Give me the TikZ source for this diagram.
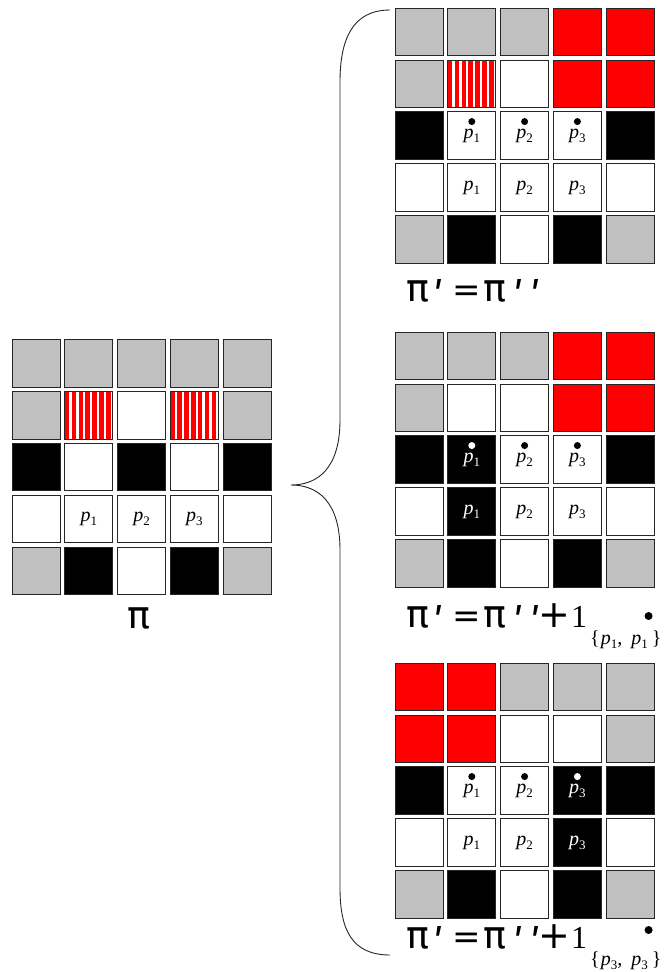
\documentclass[tikz,border=0pt]{standalone}
\usepackage{fontspec}
\setmainfont{Liberation Serif}
\newfontfamily\symfont{DejaVu Sans}
\usepackage{tikz}
\usetikzlibrary{positioning,calc}
\definecolor{CellGray}{HTML}{C0C0C0}
\definecolor{CellRed}{HTML}{FF0000}

\newcommand\pv[1]{\textit{p}\raisebox{-4pt}{\fontsize{13}{13}\selectfont #1}}
\newcommand\lpi{{\symfont\fontsize{38}{38}\selectfont π}}
\newcommand\prm{\raisebox{-10pt}{\symfont\fontsize{40}{40}\selectfont ʹ}}
\newcommand\pieq{\makebox[27pt][l]{\lpi}\makebox[19pt][l]{\prm}%
  \makebox[31pt][l]{\symfont\fontsize{34}{34}\selectfont =}\makebox[30pt][l]{\lpi}%
  \makebox[17pt][l]{\prm}\makebox[8pt][l]{\prm}}
\newcommand\plusone{\makebox[33pt][l]{\symfont\fontsize{38}{38}\selectfont +}1}
\newcommand\subpair[1]{\hspace{3pt}\raisebox{-17pt}{\fontsize{20}{20}\selectfont
  \{\hspace{1pt}\pv#1,\hspace{9pt}\pv#1\hspace{4pt}\}}}

% one 5x5 board: name, left, top, fills
\newcommand\cellgrid[4]{%
  \foreach \c [count=\i from 0] in {#4} {
    \pgfmathtruncatemacro\cellrow{\i/5}
    \pgfmathtruncatemacro\cellcol{mod(\i,5)}
    \node[cell, fill-\c] (#1-\cellrow-\cellcol)
      at ({#2+24+\cellcol*52.8},{#3+23.75+\cellrow*51.9}) {};
  }}

\begin{document}
\begin{tikzpicture}[x=1pt, y=-1pt,
    cell/.style={draw=black!85, line width=0.8pt, minimum width=48pt,
      minimum height=47.5pt, inner sep=0pt},
    fill-gray/.style={fill=CellGray},
    fill-black/.style={fill=black},
    fill-white/.style={fill=white},
    fill-red/.style={fill=CellRed},
    fill-stripe/.style={fill=white, path picture={
        \foreach \k in {0,...,6}
          \fill[CellRed] ([xshift=\k*6.86pt]path picture bounding box.south west)
            rectangle ++(4.6pt,47.5pt);}},
    ptxt/.style={font=\fontsize{20}{20}\selectfont, inner sep=0pt},
    ptxt-w/.style={ptxt, text=white},
    pdot/.style={circle, fill=black, inner sep=0pt, minimum size=7pt},
    pdot-w/.style={pdot, fill=white},
    lbl/.style={font=\fontsize{32}{36}\selectfont, inner sep=0pt, anchor=base west},
    brace/.style={line width=0.9pt, draw=black!85}
  ]
    \useasboundingbox (0,0) rectangle (667,972);

    % the board pi
    \cellgrid{pi}{12}{339.5}{gray,gray,gray,gray,gray,
      gray,stripe,white,stripe,gray,
      black,white,black,white,black,
      white,white,white,white,white,
      gray,black,white,black,gray}
    \foreach \j in {1,2,3}
      \node[ptxt] (pi-p\j) at (pi-3-\j) {\pv\j};
    \node[lbl, anchor=base] (pi-lbl) at (139,628) {\lpi};

    % first case
    \cellgrid{ta}{395}{8}{gray,gray,gray,red,red,
      gray,stripe,white,red,red,
      black,white,white,white,black,
      white,white,white,white,white,
      gray,black,white,black,gray}
    \foreach \j in {1,2,3} {
      \node[ptxt] (ta-q\j) at (ta-2-\j) {\pv\j};
      \node[pdot] (ta-d\j) at ([yshift=14pt]ta-2-\j) {};
      \node[ptxt] (ta-p\j) at (ta-3-\j) {\pv\j};
    }
    \node[lbl] (ta-lbl) at (406,301) {\pieq};

    % second case
    \cellgrid{tb}{395}{332}{gray,gray,gray,red,red,
      gray,white,white,red,red,
      black,black,white,white,black,
      white,black,white,white,white,
      gray,black,white,black,gray}
    \node[ptxt-w] (tb-q1) at (tb-2-1) {\pv1};
    \node[pdot-w] (tb-d1) at ([yshift=14pt]tb-2-1) {};
    \node[ptxt-w] (tb-p1) at (tb-3-1) {\pv1};
    \foreach \j in {2,3} {
      \node[ptxt] (tb-q\j) at (tb-2-\j) {\pv\j};
      \node[pdot] (tb-d\j) at ([yshift=14pt]tb-2-\j) {};
      \node[ptxt] (tb-p\j) at (tb-3-\j) {\pv\j};
    }
    \node[lbl] (tb-lbl) at (406,627) {\pieq\plusone\subpair1};
    \node[pdot, minimum size=8pt] (tb-sd) at ([xshift=-13pt,yshift=11pt]tb-lbl.base east) {};

    % third case
    \cellgrid{tc}{395}{663}{red,red,gray,gray,gray,
      red,red,white,white,gray,
      black,white,white,black,black,
      white,white,white,black,white,
      gray,black,white,black,gray}
    \foreach \j in {1,2} {
      \node[ptxt] (tc-q\j) at (tc-2-\j) {\pv\j};
      \node[pdot] (tc-d\j) at ([yshift=14pt]tc-2-\j) {};
      \node[ptxt] (tc-p\j) at (tc-3-\j) {\pv\j};
    }
    \node[ptxt-w] (tc-q3) at (tc-2-3) {\pv3};
    \node[pdot-w] (tc-d3) at ([yshift=14pt]tc-2-3) {};
    \node[ptxt-w] (tc-p3) at (tc-3-3) {\pv3};
    \node[lbl] (tc-lbl) at (406,948) {\pieq\plusone\subpair3};
    \node[pdot, minimum size=8pt] (tc-sd) at ([xshift=-13pt,yshift=18pt]tc-lbl.base east) {};

    % the brace
    \coordinate (br-top) at (390,10);
    \coordinate (br-tip) at (291,485);
    \coordinate (br-bot) at (390,955);
    \draw[brace] (br-top) .. controls (352,10) and (340,40) .. (340,82)
      -- (340,420) .. controls (340,468) and (318,485) .. (br-tip)
      .. controls (318,485) and (340,502) .. (340,550)
      -- (340,888) .. controls (340,930) and (352,955) .. (br-bot);
\end{tikzpicture}
\end{document}
